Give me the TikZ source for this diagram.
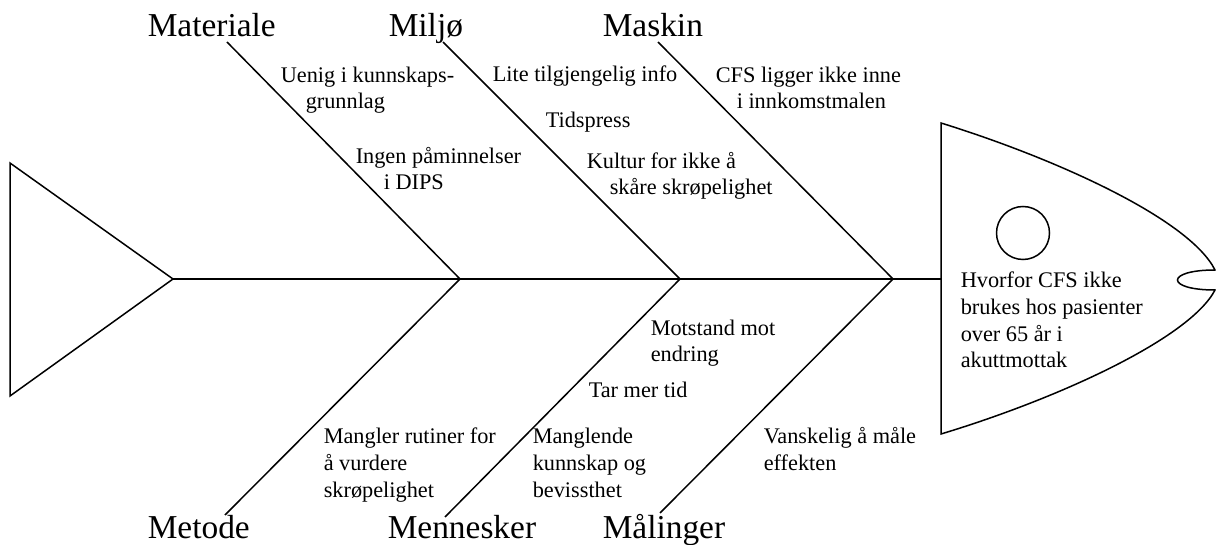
\documentclass[tikz,border=0pt]{standalone}
\usepackage{fontspec}
\setmainfont{Liberation Serif}

\begin{document}
\begin{tikzpicture}[
    x=0.5pt, y=-0.5pt,
    every path/.style={line width=0.75pt},
    category/.style={
        anchor=base west,
        inner sep=0pt,
        font=\fontsize{16.7}{20}\selectfont   % Big heading for each main cause
    },
    cause/.style={
        anchor=base west,                      % base = last line of the text
        inner sep=0pt,
        align=left,                            % Lines start at the same left edge
        font=\fontsize{11.15}{13.4}\selectfont
    }
]
\useasboundingbox (0,0) rectangle (1216,545);

% points on the spine
\coordinate (tail) at (173,279);
\coordinate (j1) at (460,279);
\coordinate (j2) at (680,279);
\coordinate (j3) at (893,279);
\coordinate (head) at (941,279);

% tail fin and head
\draw (10,163) -- (tail) -- (10,396) -- cycle;
\draw (941,123) .. controls (1060,160) and (1190,220) .. (1215,270)
      .. controls (1165,270) and (1165,290) .. (1215,290)
      .. controls (1190,338) and (1060,398) .. (941,434) -- cycle;
\draw (1023,233) circle (13.25pt);
\draw (tail) -- (head);

% main causes
\node[category] (materiale) at (147,37) {Materiale};
\node[category] (miljo) at (388,37) {Miljø};
\node[category] (maskin) at (602,37) {Maskin};
\node[category] (metode) at (147,538) {Metode};
\node[category] (mennesker) at (387,538) {Mennesker};
\node[category] (malinger) at (602,538) {Målinger};

\coordinate (b1) at (227,42);
\coordinate (b2) at (443,42);
\coordinate (b3) at (658,42);
\coordinate (b4) at (225,515);
\coordinate (b5) at (445,517);
\coordinate (b6) at (660,513);

\draw (b1) -- (j1);
\draw (b2) -- (j2);
\draw (b3) -- (j3);
\draw (j1) -- (b4);
\draw (j2) -- (b5);
\draw (j3) -- (b6);

% sub causes
\node[cause] (uenig) at (280,109) {Uenig i kunnskaps-\\\hspace*{12.5pt}grunnlag};
\node[cause] (ingen) at (355,190) {Ingen påminnelser\\\hspace*{14pt}i DIPS};
\node[cause] (lite) at (492,82) {Lite tilgjengelig info};
\node[cause] (tidspress) at (545,128) {Tidspress};
\node[cause] (kultur) at (586,195) {Kultur for ikke å\\\hspace*{11.5pt}skåre skrøpelighet};
\node[cause] (cfs) at (715,109) {CFS ligger ikke inne\\\hspace*{10.5pt}i innkomstmalen};
\node[cause] (motstand) at (650,362) {Motstand mot\\endring};
\node[cause] (tarmer) at (588,398) {Tar mer tid};
\node[cause] (mangler) at (323,497) {Mangler rutiner for\\å vurdere\\skrøpelighet};
\node[cause] (manglende) at (532,497) {Manglende\\kunnskap og\\bevissthet};
\node[cause] (vanskelig) at (763,470) {Vanskelig å måle\\effekten};

% problem in the head
\node[cause] (problem) at (960,368) {Hvorfor CFS ikke\\brukes hos pasienter\\over 65 år i\\akuttmottak};
\end{tikzpicture}
\end{document}
